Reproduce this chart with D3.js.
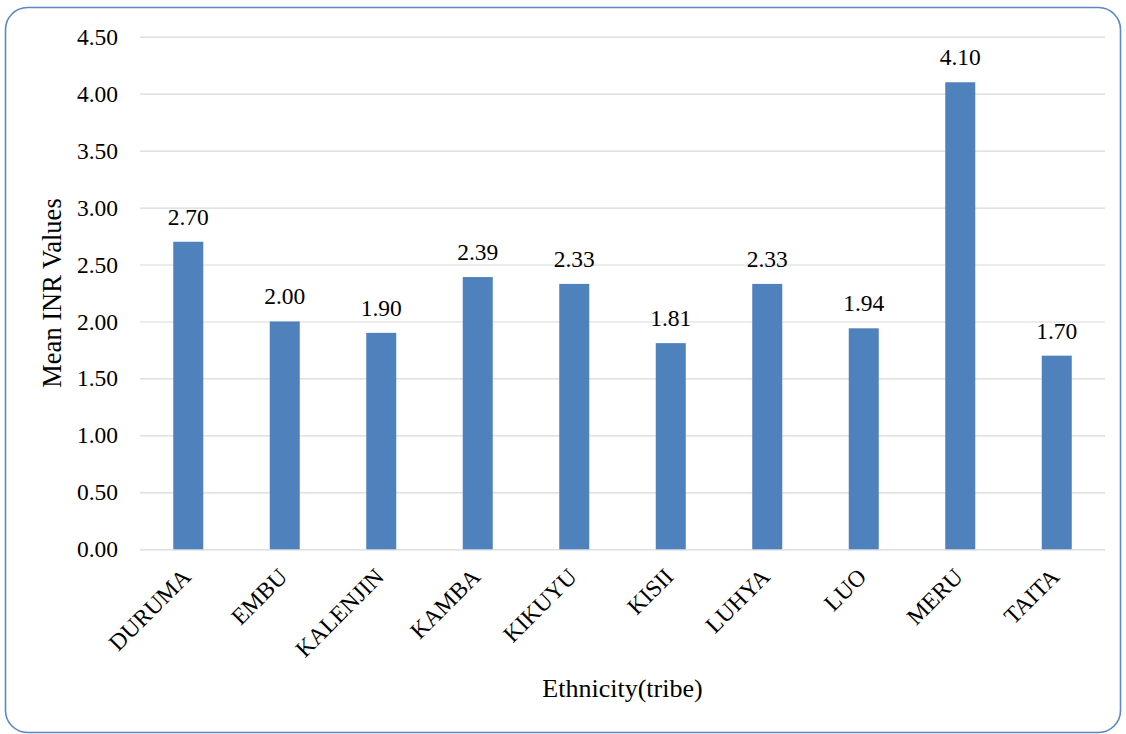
<!DOCTYPE html>
<html>
<head>
<meta charset="utf-8">
<script src="https://cdn.jsdelivr.net/npm/d3@7"></script>
<style>
  html, body { margin: 0; padding: 0; background: #fff; }
  svg { display: block; }
  svg text { font-family: 'Liberation Serif', 'Times New Roman', serif !important; fill: #000; }
</style>
</head>
<body>
<svg id="chart" width="1126" height="734"></svg>
<script>
// Mean INR value per ethnic group
const tribes = ["DURUMA", "EMBU", "KALENJIN", "KAMBA", "KIKUYU", "KISII", "LUHYA", "LUO", "MERU", "TAITA"];
const meanINR = [2.70, 2.00, 1.90, 2.39, 2.33, 1.81, 2.33, 1.94, 4.10, 1.70];
const yTicks = [0, 0.5, 1, 1.5, 2, 2.5, 3, 3.5, 4, 4.5];

const SERIF = "'Liberation Serif', 'Times New Roman', serif";
const svg = d3.select("#chart");
const plot = { left: 140, right: 1105, top: 36.7, bottom: 549.3 };

// outer frame with rounded corners
svg.append("rect")
  .attr("x", 5.5).attr("y", 7.5)
  .attr("width", 1115).attr("height", 725)
  .attr("rx", 22).attr("ry", 22)
  .attr("fill", "#fff")
  .attr("stroke", "#5a87c5")
  .attr("stroke-width", 1.6);

const x = d3.scaleBand()
  .domain(tribes)
  .range([plot.left, plot.right])
  .paddingInner(0.689)
  .paddingOuter(0.3445);

const y = d3.scaleLinear()
  .domain([0, 4.5])
  .range([plot.bottom, plot.top]);

// horizontal gridlines and value axis labels
const yAxis = d3.axisLeft(y)
  .tickValues(yTicks)
  .tickFormat(d3.format(".2f"))
  .tickSize(-(plot.right - plot.left))
  .tickPadding(22);

const gy = svg.append("g")
  .attr("transform", `translate(${plot.left},0)`)
  .call(yAxis)
  .attr("font-family", null)
  .attr("font-size", null);
gy.select(".domain").remove();
gy.selectAll(".tick line").attr("stroke", "#d9d9d9").attr("stroke-width", 1.2);
gy.selectAll(".tick text")
  .style("font-family", SERIF)
  .style("font-size", "23.5px")
  .attr("fill", "#000");

// bars
const data = tribes.map((t, i) => ({ tribe: t, value: meanINR[i] }));
svg.append("g").selectAll("rect")
  .data(data)
  .join("rect")
  .attr("x", d => x(d.tribe))
  .attr("y", d => y(d.value))
  .attr("width", x.bandwidth())
  .attr("height", d => y(0) - y(d.value))
  .attr("fill", "#4f81bd");

// value labels above bars
svg.append("g").selectAll("text")
  .data(data)
  .join("text")
  .attr("x", d => x(d.tribe) + x.bandwidth() / 2)
  .attr("y", d => y(d.value) - 17)
  .attr("text-anchor", "middle")
  .style("font-family", SERIF)
  .style("font-size", "23.5px")
  .text(d => d.value.toFixed(2));

// category axis: rotated labels
const xAxis = d3.axisBottom(x).tickSize(0).tickPadding(0);
const gx = svg.append("g")
  .attr("transform", `translate(0,${plot.bottom})`)
  .call(xAxis)
  .attr("font-family", null)
  .attr("font-size", null);
gx.select(".domain").remove();
gx.selectAll(".tick text")
  .style("font-family", SERIF)
  .style("font-size", "23.5px")
  .attr("fill", "#000")
  .attr("text-anchor", "end")
  .attr("y", 0)
  .attr("dy", "0.72em")
  .attr("transform", "translate(-8,17) rotate(-45)");

// axis titles
svg.append("text")
  .attr("x", (plot.left + plot.right) / 2)
  .attr("y", 697)
  .attr("text-anchor", "middle")
  .style("font-family", SERIF)
  .style("font-size", "26px")
  .text("Ethnicity(tribe)");

svg.append("text")
  .attr("transform", `translate(61,${(plot.top + plot.bottom) / 2}) rotate(-90)`)
  .attr("text-anchor", "middle")
  .style("font-family", SERIF)
  .style("font-size", "26.5px")
  .text("Mean INR Values");
</script>
</body>
</html>
